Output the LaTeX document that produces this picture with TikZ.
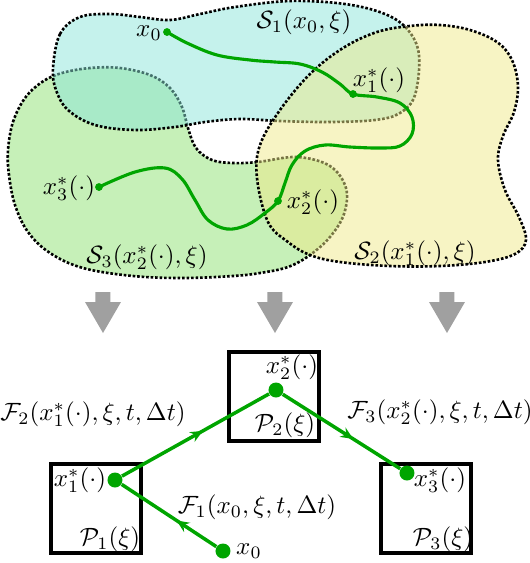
\documentclass[tikz,border=0pt]{standalone}
\usetikzlibrary{decorations.markings,arrows.meta}
\definecolor{cSone}{RGB}{139,229,217}
\definecolor{cStwo}{RGB}{239,233,137}
\definecolor{cSthree}{RGB}{141,225,113}
\definecolor{pathgreen}{RGB}{0,165,0}
\definecolor{arrgray}{RGB}{160,160,160}
\begin{document}
\begin{tikzpicture}[x=0.4pt,y=-0.4pt,
  region/.style={fill=#1, fill opacity=0.5, draw=black, line width=1.05pt, dash pattern=on 1.05pt off 0.75pt},
  topdot/.style={circle, fill=pathgreen, inner sep=0pt, minimum size=3pt},
  botdot/.style={circle, fill=pathgreen, inner sep=0pt, minimum size=6pt},
  toppath/.style={draw=pathgreen, line width=1.25pt},
  pbox/.style={draw=black, line width=1.6pt, minimum width=36pt, minimum height=35.6pt, inner sep=0pt},
  flow/.style={draw=pathgreen, line width=1.4pt, postaction={decorate},
    decoration={markings, mark=at position #1 with {\arrow{Stealth[length=5pt,width=4.4pt,inset=1.7pt]}}}},
  lbl/.style={inner sep=0pt}]
\useasboundingbox (0,0) rectangle (530,563);
% regions
\path[region=cSthree] plot[smooth cycle, tension=0.6] coordinates {
 (8,150) (13,122) (25,98) (42,82) (62,73) (90,68) (120,68) (150,75) (170,88) (182,107) (188,128) (196,148) (212,160) (233,163) (258,162) (297,157) (330,166) (346,188) (344,214) (330,237) (310,255) (288,267) (260,273) (233,276) (183,278) (133,276) (83,268) (50,253) (28,232) (15,205) (9,175)};
\path[region=cSone] plot[smooth cycle, tension=0.6] coordinates {
 (53,68) (60,34) (80,17) (110,14) (140,17) (170,20) (200,14) (235,7) (290,1) (345,4) (385,14) (408,30) (419,55) (415,95) (400,113) (375,120) (330,122) (280,121) (240,119) (205,122) (175,127) (135,130) (95,125) (68,110) (56,90)};
\path[region=cStwo] plot[smooth cycle, tension=0.6] coordinates {
 (257,178) (260,145) (280,110) (310,74) (343,48) (377,32) (410,26) (440,25) (470,30) (497,42) (512,60) (518,86) (514,112) (503,136) (498,160) (505,190) (519,217) (526,240) (515,254) (485,262) (440,266) (390,266) (340,262) (310,255) (288,242) (268,222)};
% top path
\node[topdot] (a0) at (167,32) {};
\node[topdot] (a1) at (353,94) {};
\node[topdot] (a2) at (278,201) {};
\node[topdot] (a3) at (99,187) {};
\draw[toppath] plot[smooth, tension=0.6] coordinates {(a0.center) (187,43) (217,55) (250,60) (275,62) (300,64) (322,72) (340,84) (a1.center) (377,97) (400,103) (412,117) (412,134) (400,146) (380,148) (350,147) (325,145) (305,151) (292,165) (285,183) (a2.center) (265,213) (247,225) (227,229) (208,220) (195,200) (182,179) (165,168) (135,172) (a3.center)};
\node[topdot] at (a0) {};
\node[topdot] at (a1) {};
\node[topdot] at (a2) {};
\node[topdot] at (a3) {};
% top labels
\node[lbl] (l0) at (149,33) {$x_0$};
\node[lbl] (l1) at (379,80) {$x_1^*(\cdot)$};
\node[lbl] (l2) at (313,202) {$x_2^*(\cdot)$};
\node[lbl] (l3) at (69,188) {$x_3^*(\cdot)$};
\node[lbl] (s1) at (304,22) {$\mathcal{S}_1(x_0,\xi)$};
\node[lbl] (s2) at (415,253) {$\mathcal{S}_2(x_1^*(\cdot),\xi)$};
\node[lbl] (s3) at (147,257) {$\mathcal{S}_3(x_2^*(\cdot),\xi)$};
% grey arrows
\foreach \cx in {103,275,447} {
  \fill[arrgray, shift={(\cx,0)}] (-7.5,292) -- (7.5,292) -- (7.5,302) -- (18,302) -- (0,333) -- (-18,302) -- (-7.5,302) -- cycle;
}
% bottom boxes
\node[pbox] (P1) at (96,508) {};
\node[pbox] (P2) at (274.5,396.5) {};
\node[pbox] (P3) at (426,508) {};
\node[lbl] (tP1) at (110,539) {$\mathcal{P}_1(\xi)$};
\node[lbl] (tP2) at (285,425) {$\mathcal{P}_2(\xi)$};
\node[lbl] (tP3) at (443,539) {$\mathcal{P}_3(\xi)$};
\node[lbl] (tx1) at (80,480) {$x_1^*(\cdot)$};
\node[lbl] (tx2) at (292,367) {$x_2^*(\cdot)$};
\node[lbl] (tx3) at (440,480) {$x_3^*(\cdot)$};
\node[lbl] (tx0) at (249,551) {$x_0$};
\node[lbl] (F1) at (257,507) {$\mathcal{F}_1(x_0,\xi,t,\Delta t)$};
\node[lbl] (F2) at (93,414) {$\mathcal{F}_2(x_1^*(\cdot),\xi,t,\Delta t)$};
\node[lbl] (F3) at (440,412) {$\mathcal{F}_3(x_2^*(\cdot),\xi,t,\Delta t)$};
% dots and flows
\node[botdot] (b1) at (115,480) {};
\node[botdot] (b2) at (276,390) {};
\node[botdot] (b3) at (407,473) {};
\node[botdot] (b0) at (223,551) {};
\draw[flow=0.42] (b0) -- (b1);
\draw[flow=0.55] (b1) -- (b2);
\draw[flow=0.6] (b2) -- (b3);
\end{tikzpicture}
\end{document}
